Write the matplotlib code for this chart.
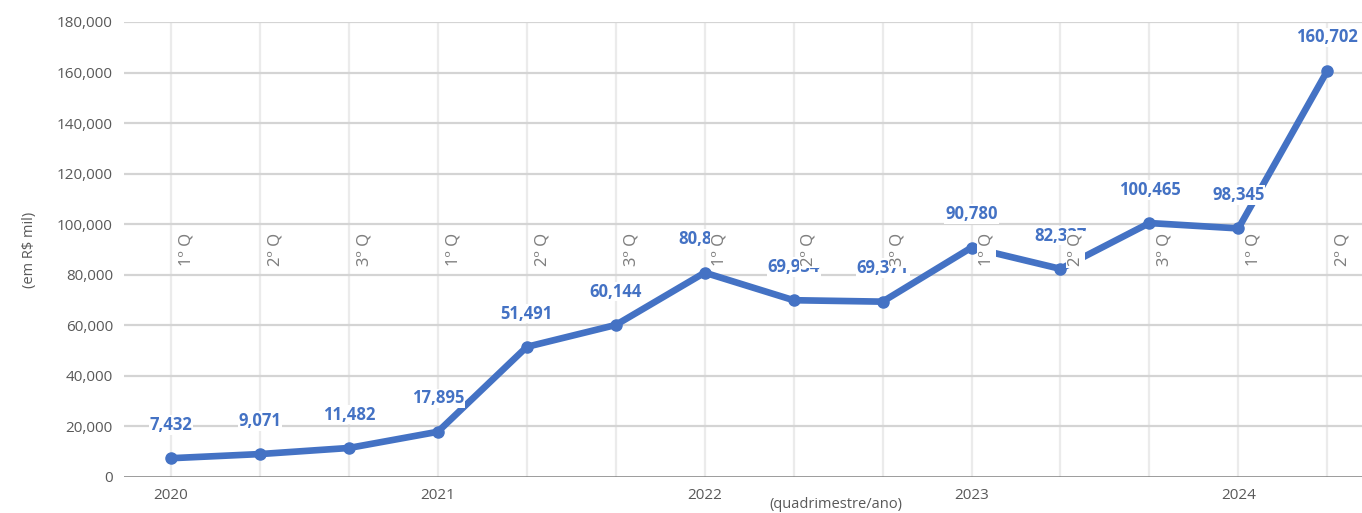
import numpy as np
import matplotlib
matplotlib.use('Agg')
from matplotlib import pyplot as plt
from matplotlib.ticker import FuncFormatter

plt.rcParams['font.family'] = ['Open Sans', 'DejaVu Sans']

# dados (em R$ mil) por quadrimestre
quadrimestres = ['1º Q', '2º Q', '3º Q', '1º Q', '2º Q', '3º Q', '1º Q', '2º Q', '3º Q',
                 '1º Q', '2º Q', '3º Q', '1º Q', '2º Q']
anos = ['2020', '', '', '2021', '', '', '2022', '', '', '2023', '', '', '2024', '']
valores = [7432, 9071, 11482, 17895, 51491, 60144, 80842, 69934, 69371,
           90780, 82337, 100465, 98345, 160702]

azul = '#4472C4'
cinza = '#595959'

fig = plt.figure(figsize=(13.62, 5.13), dpi=100)
ax = fig.add_axes([124 / 1362, 36 / 513, 1 - 124 / 1362, (477 - 22) / 513])

x = np.arange(len(valores))

# grades
for xi in x:
    ax.axvline(xi, color='#ebebeb', lw=1.6, zorder=0)
for yv in range(20000, 180001, 20000):
    ax.axhline(yv, color='#d4d4d4', lw=1.6, zorder=0)
ax.axhline(0, color='#7f7f7f', lw=1.8, zorder=1)

ax.plot(x, valores, color=azul, lw=4.8, marker='o', markersize=8,
        solid_capstyle='round', solid_joinstyle='round', zorder=3)

# rotulos dos valores
for xi, v in zip(x, valores):
    ax.annotate(f'{v:,}', (xi, v), xytext=(0, 24), textcoords='offset points',
                ha='center', va='center', fontsize=12, fontweight='bold', color=azul,
                bbox=dict(boxstyle='square,pad=0.05', fc='white', ec='none'), zorder=4)

# rotulos dos quadrimestres dentro do grafico
for xi, q in zip(x, quadrimestres):
    ax.annotate(q, (xi, 90000), xytext=(11, 0), textcoords='offset points',
                ha='center', va='center', rotation=90, fontsize=12, color='#7f7f7f',
                family=['Noto Sans', 'DejaVu Sans'],
                bbox=dict(boxstyle='square,pad=0.1', fc='white', ec='none'), zorder=5)

ax.set_xlim(-0.529, 13.39)
ax.set_ylim(0, 180000)
ax.set_yticks(range(0, 180001, 20000))
ax.yaxis.set_major_formatter(FuncFormatter(lambda v, p: f'{int(v):,}'))
ax.set_xticks(x)
ax.set_xticklabels(anos)
ax.tick_params(axis='both', length=0, labelsize=11, labelcolor=cinza)
ax.tick_params(axis='x', pad=8)
ax.tick_params(axis='y', pad=8)
for s in ax.spines.values():
    s.set_visible(False)

ax.set_ylabel('(em R$ mil)', fontsize=10.5, color=cinza, labelpad=14)
fig.text(836 / 1362, 1 - 505 / 513, '(quadrimestre/ano)', ha='center', va='center',
         fontsize=10.5, color=cinza)

fig.savefig('out.png', dpi=100)
